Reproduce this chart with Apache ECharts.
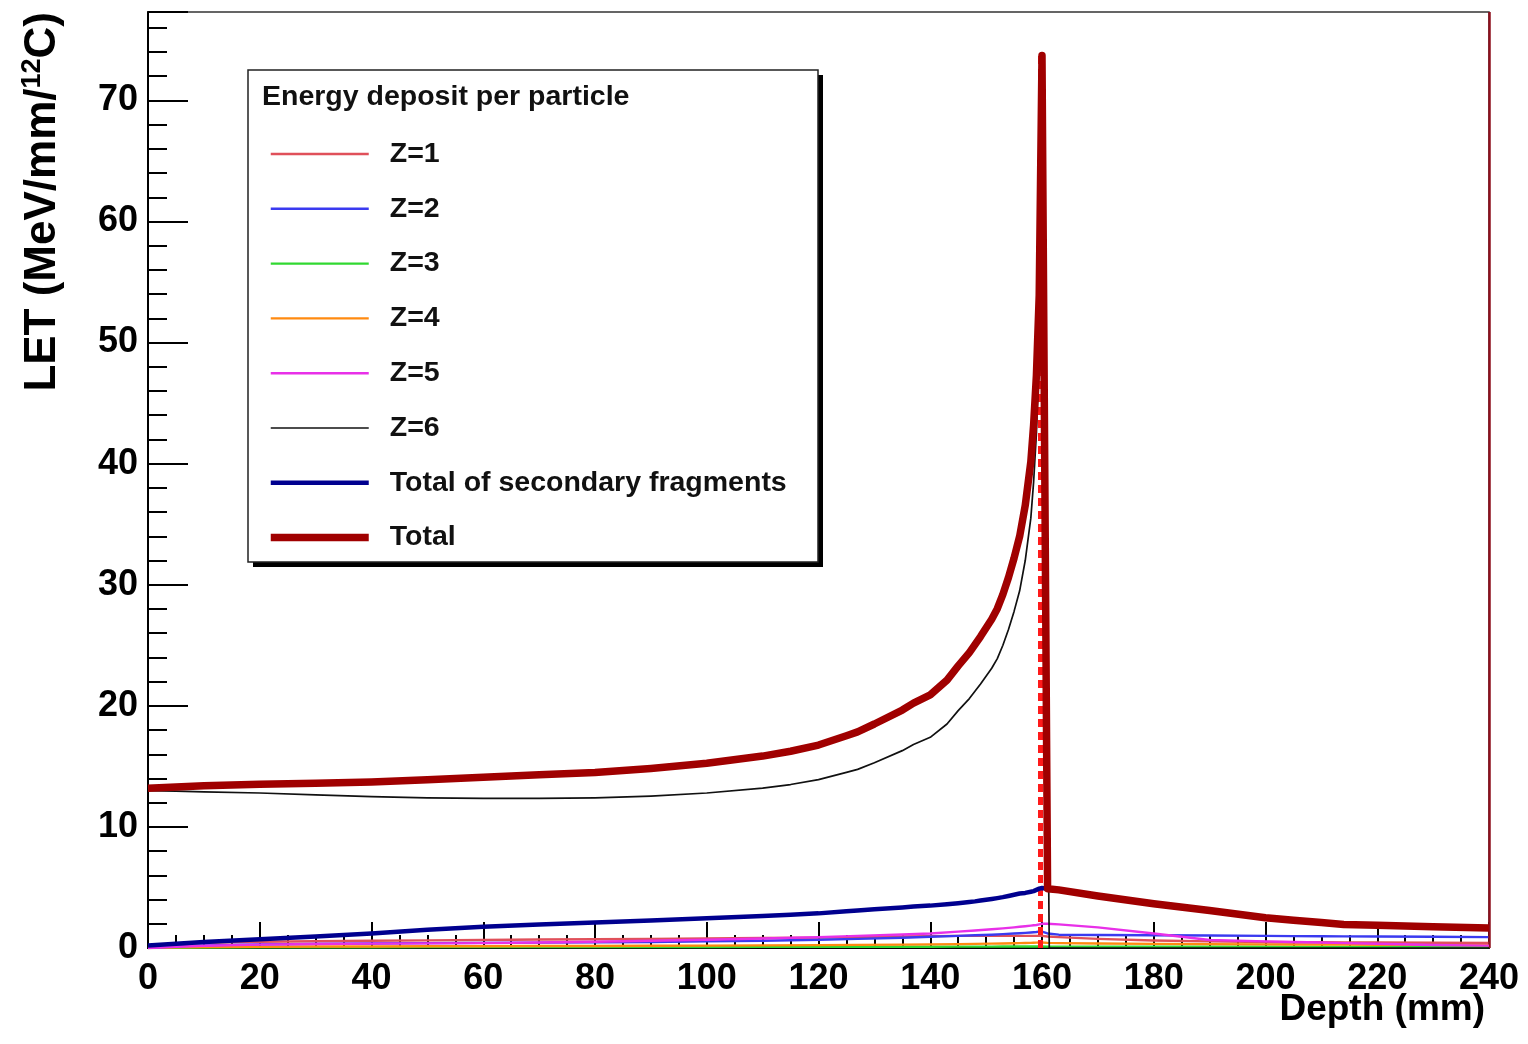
<!DOCTYPE html>
<html>
<head>
<meta charset="utf-8">
<title>LET vs depth</title>
<script src="https://cdn.jsdelivr.net/npm/echarts@6/dist/echarts.min.js"></script>
<style>
  html, body { margin: 0; padding: 0; background: #fff; }
  #chart { width: 1528px; height: 1044px; }
</style>
</head>
<body>
<div id="chart"></div>
<script>
// Depth sampling (mm) for the small fragment contributions
const depth = [0, 5, 10, 20, 30, 40, 50, 60, 70, 80, 90, 100, 110, 120, 127, 135, 140, 145, 148, 151, 153, 155, 156, 157, 158, 158.5, 159, 159.5, 160, 161, 161.3, 163, 170, 180, 190, 200, 205, 210, 214, 220, 230, 240];
// Denser depth sampling (mm) for the curves carrying the Bragg peak
const depthFine = [0, 5, 10, 20, 30, 40, 50, 60, 70, 80, 90, 100, 110, 115, 120, 125, 127, 130, 135, 137, 140, 143, 145, 147, 148, 149, 151, 152, 153, 154, 155, 156, 157, 158, 158.5, 159, 159.5, 160, 161, 161.3, 163, 170, 180, 190, 200, 205, 210, 214, 220, 230, 240];

// LET per fragment charge (MeV/mm per incident 12C), on `depth`
const letZ1 = [0, 0.3, 0.42, 0.52, 0.56, 0.6, 0.63, 0.66, 0.7, 0.72, 0.75, 0.78, 0.82, 0.86, 0.9, 0.95, 0.98, 1.0, 1.0, 1.0, 1.0, 1.0, 1.0, 1.0, 1.0, 1.0, 1.0, 1.0, 1.0, 0.95, 0.95, 0.9, 0.75, 0.62, 0.55, 0.5, 0.48, 0.47, 0.46, 0.45, 0.43, 0.42];
const letZ2 = [0, 0.15, 0.22, 0.3, 0.34, 0.37, 0.4, 0.42, 0.44, 0.47, 0.5, 0.55, 0.6, 0.68, 0.75, 0.85, 0.93, 1.0, 1.05, 1.1, 1.15, 1.2, 1.22, 1.25, 1.28, 1.3, 1.32, 1.35, 1.35, 1.2, 1.15, 1.1, 1.07, 1.05, 1.03, 1.0, 0.98, 0.97, 0.96, 0.95, 0.93, 0.9];
const letZ3 = [0, 0.02, 0.04, 0.05, 0.06, 0.06, 0.07, 0.07, 0.07, 0.08, 0.08, 0.08, 0.09, 0.09, 0.1, 0.1, 0.1, 0.11, 0.11, 0.11, 0.12, 0.12, 0.12, 0.12, 0.12, 0.12, 0.12, 0.12, 0.12, 0.11, 0.11, 0.11, 0.1, 0.1, 0.1, 0.1, 0.09, 0.09, 0.09, 0.09, 0.08, 0.08];
const letZ4 = [0, 0.05, 0.08, 0.1, 0.12, 0.13, 0.14, 0.15, 0.16, 0.17, 0.18, 0.2, 0.22, 0.24, 0.26, 0.28, 0.3, 0.32, 0.34, 0.36, 0.37, 0.39, 0.4, 0.41, 0.42, 0.43, 0.44, 0.45, 0.45, 0.42, 0.42, 0.4, 0.37, 0.34, 0.32, 0.3, 0.29, 0.28, 0.28, 0.27, 0.26, 0.25];
const letZ5 = [0, 0.1, 0.18, 0.28, 0.33, 0.36, 0.38, 0.4, 0.45, 0.52, 0.6, 0.68, 0.78, 0.9, 1.0, 1.12, 1.2, 1.35, 1.45, 1.55, 1.62, 1.7, 1.75, 1.8, 1.85, 1.88, 1.9, 1.95, 2.0, 2.0, 2.0, 1.95, 1.7, 1.2, 0.66, 0.55, 0.5, 0.45, 0.4, 0.35, 0.25, 0.2];
// On `depthFine`
const letZ6 = [13.0, 12.95, 12.9, 12.8, 12.65, 12.5, 12.4, 12.35, 12.35, 12.4, 12.55, 12.8, 13.2, 13.5, 13.9, 14.5, 14.75, 15.3, 16.3, 16.8, 17.4, 18.5, 19.6, 20.6, 21.2, 21.8, 23.1, 23.9, 25.0, 26.3, 27.8, 29.5, 32.0, 35.5, 38.5, 42.5, 49.0, 68.8, 16.0, 0, 0, 0, 0, 0, 0, 0, 0, 0, 0, 0, 0];
const letSecondary = [0.2, 0.35, 0.5, 0.72, 0.95, 1.2, 1.5, 1.76, 1.95, 2.1, 2.28, 2.45, 2.65, 2.75, 2.86, 3.03, 3.1, 3.2, 3.35, 3.42, 3.5, 3.62, 3.7, 3.8, 3.85, 3.92, 4.05, 4.12, 4.2, 4.3, 4.4, 4.5, 4.55, 4.65, 4.7, 4.8, 4.9, 4.95, 4.9, 4.9, 4.8, 4.3, 3.65, 3.1, 2.5, 2.3, 2.1, 1.95, 1.88, 1.75, 1.65];
const letTotal = [13.2, 13.3, 13.4, 13.52, 13.6, 13.7, 13.9, 14.1, 14.3, 14.5, 14.83, 15.25, 15.85, 16.25, 16.76, 17.53, 17.85, 18.5, 19.65, 20.22, 20.9, 22.12, 23.3, 24.4, 25.05, 25.72, 27.15, 28.02, 29.2, 30.6, 32.2, 34.0, 36.55, 40.15, 43.2, 47.3, 53.9, 73.7, 4.9, 4.9, 4.8, 4.3, 3.65, 3.1, 2.5, 2.3, 2.1, 1.95, 1.88, 1.75, 1.65];

// Bragg peak marker (dotted vertical) and end of the depth range
const braggDepth = 159.7;
const braggLET = 73.7;
const depthEnd = 240;

const seriesNames = ['Z=1', 'Z=2', 'Z=3', 'Z=4', 'Z=5', 'Z=6', 'Total of secondary fragments', 'Total'];
const seriesValues = [letZ1, letZ2, letZ3, letZ4, letZ5, letZ6, letSecondary, letTotal];
const seriesDepths = [depth, depth, depth, depth, depth, depthFine, depthFine, depthFine];
const seriesColors = ['#e0505a', '#3a3af0', '#30d830', '#ff8a10', '#e830e8', '#111111', '#00008f', '#a00000'];
const seriesWidths = [2.4, 2.4, 2.4, 2.4, 2.4, 1.7, 4.5, 7.5];
const seriesZ = [3, 4, 2, 2, 5, 6, 7, 8];

const FONT = "'Liberation Sans', Arial, Helvetica, sans-serif";

const chart = echarts.init(document.getElementById('chart'), null, { renderer: 'canvas' });

const series = seriesNames.map((name, k) => {
  const xs = seriesDepths[k];
  const s = {
    name: name,
    type: 'line',
    xAxisIndex: 0,
    yAxisIndex: 0,
    symbol: 'none',
    showSymbol: false,
    smooth: false,
    z: seriesZ[k],
    data: xs.map((d, i) => [d, seriesValues[k][i]]),
    lineStyle: { color: seriesColors[k], width: seriesWidths[k], join: 'round' },
    itemStyle: { color: seriesColors[k] },
    emphasis: { disabled: true },
    animation: false
  };
  if (name === 'Total') {
    s.markLine = {
      silent: true,
      symbol: 'none',
      animation: false,
      label: { show: false },
      data: [
        [
          { coord: [braggDepth, 0], lineStyle: { color: '#ff1a1a', width: 5, type: [8, 5] } },
          { coord: [braggDepth, braggLET] }
        ],
        { xAxis: depthEnd, lineStyle: { color: '#8e0f1c', width: 2.5, type: 'solid' } }
      ]
    };
  }
  return s;
});

const option = {
  backgroundColor: '#ffffff',
  animation: false,
  grid: {
    left: 148, right: 39, top: 12, bottom: 96,
    show: true,
    borderColor: '#333',
    borderWidth: 1.5,
    backgroundColor: 'transparent',
    containLabel: false,
    outerBoundsMode: 'none'
  },
  xAxis: [
    {
      type: 'value', min: 0, max: 240, interval: 20, position: 'bottom',
      axisLine: { show: true, onZero: false, lineStyle: { color: '#000', width: 2 } },
      axisTick: { show: true, inside: true, length: 26, lineStyle: { color: '#000', width: 2 } },
      axisLabel: { show: true, margin: 13, color: '#000', fontFamily: FONT, fontWeight: 'bold', fontSize: 36 },
      splitLine: { show: false }
    },
    {
      type: 'value', min: 0, max: 240, interval: 5, position: 'bottom',
      axisLine: { show: false },
      axisTick: { show: true, inside: true, length: 13, lineStyle: { color: '#000', width: 2 } },
      axisLabel: { show: false },
      splitLine: { show: false }
    }
  ],
  yAxis: [
    {
      type: 'value', min: 0, max: 77.3, interval: 10, position: 'left',
      axisLine: { show: true, onZero: false, lineStyle: { color: '#000', width: 2 } },
      axisTick: { show: true, inside: true, length: 40, lineStyle: { color: '#000', width: 2 } },
      axisLabel: {
        show: true, margin: 10, color: '#000', fontFamily: FONT, fontWeight: 'bold', fontSize: 36,
        formatter: v => (Math.abs(v % 10) < 1e-6 ? String(v) : '')
      },
      splitLine: { show: false }
    },
    {
      type: 'value', min: 0, max: 77.3, interval: 2, position: 'left',
      axisLine: { show: false },
      axisTick: { show: true, inside: true, length: 19, lineStyle: { color: '#000', width: 2 } },
      axisLabel: { show: false },
      splitLine: { show: false }
    }
  ],
  legend: {
    show: true,
    orient: 'vertical',
    left: 262,
    top: 134,
    itemWidth: 98,
    itemHeight: 30,
    itemGap: 24.8,
    selectedMode: false,
    z: 20,
    data: seriesNames,
    itemStyle: { opacity: 0, borderWidth: 0 },
    lineStyle: { width: 'inherit', opacity: 1 },
    textStyle: {
      color: '#111', fontFamily: FONT, fontWeight: 'bold', fontSize: 28.5,
      lineHeight: 30, padding: [0, 0, 0, 16]
    }
  },
  graphic: [
    // legend frame with hard drop shadow
    { type: 'rect', z: 10, shape: { x: 253, y: 75, width: 570, height: 492 }, style: { fill: '#000' }, silent: true },
    { type: 'rect', z: 11, shape: { x: 248, y: 70, width: 570, height: 492 }, style: { fill: '#fff', stroke: '#222', lineWidth: 1.5 }, silent: true },
    {
      type: 'text', z: 12, silent: true, x: 262, y: 97,
      style: { text: 'Energy deposit per particle', fill: '#111', font: 'bold 28.5px ' + FONT, align: 'left', verticalAlign: 'middle' }
    },
    // axis titles
    {
      type: 'text', z: 12, silent: true,
      x: 1485, y: 1010,
      style: {
        text: 'Depth (mm)', fill: '#000', font: 'bold 37px ' + FONT,
        align: 'right', verticalAlign: 'middle'
      }
    },
    {
      type: 'text', z: 12, silent: true,
      x: 43, y: 12, rotation: Math.PI / 2,
      style: {
        text: '{a|LET (MeV/mm/}{s|12}{a|C)}',
        align: 'right', verticalAlign: 'middle',
        rich: {
          a: { fontFamily: FONT, fontWeight: 'bold', fontSize: 44, lineHeight: 48, fill: '#000', color: '#000' },
          s: { fontFamily: FONT, fontWeight: 'bold', fontSize: 27, lineHeight: 27, verticalAlign: 'top', fill: '#000', color: '#000' }
        }
      }
    }
  ],
  series: series
};

chart.setOption(option);
</script>
</body>
</html>
